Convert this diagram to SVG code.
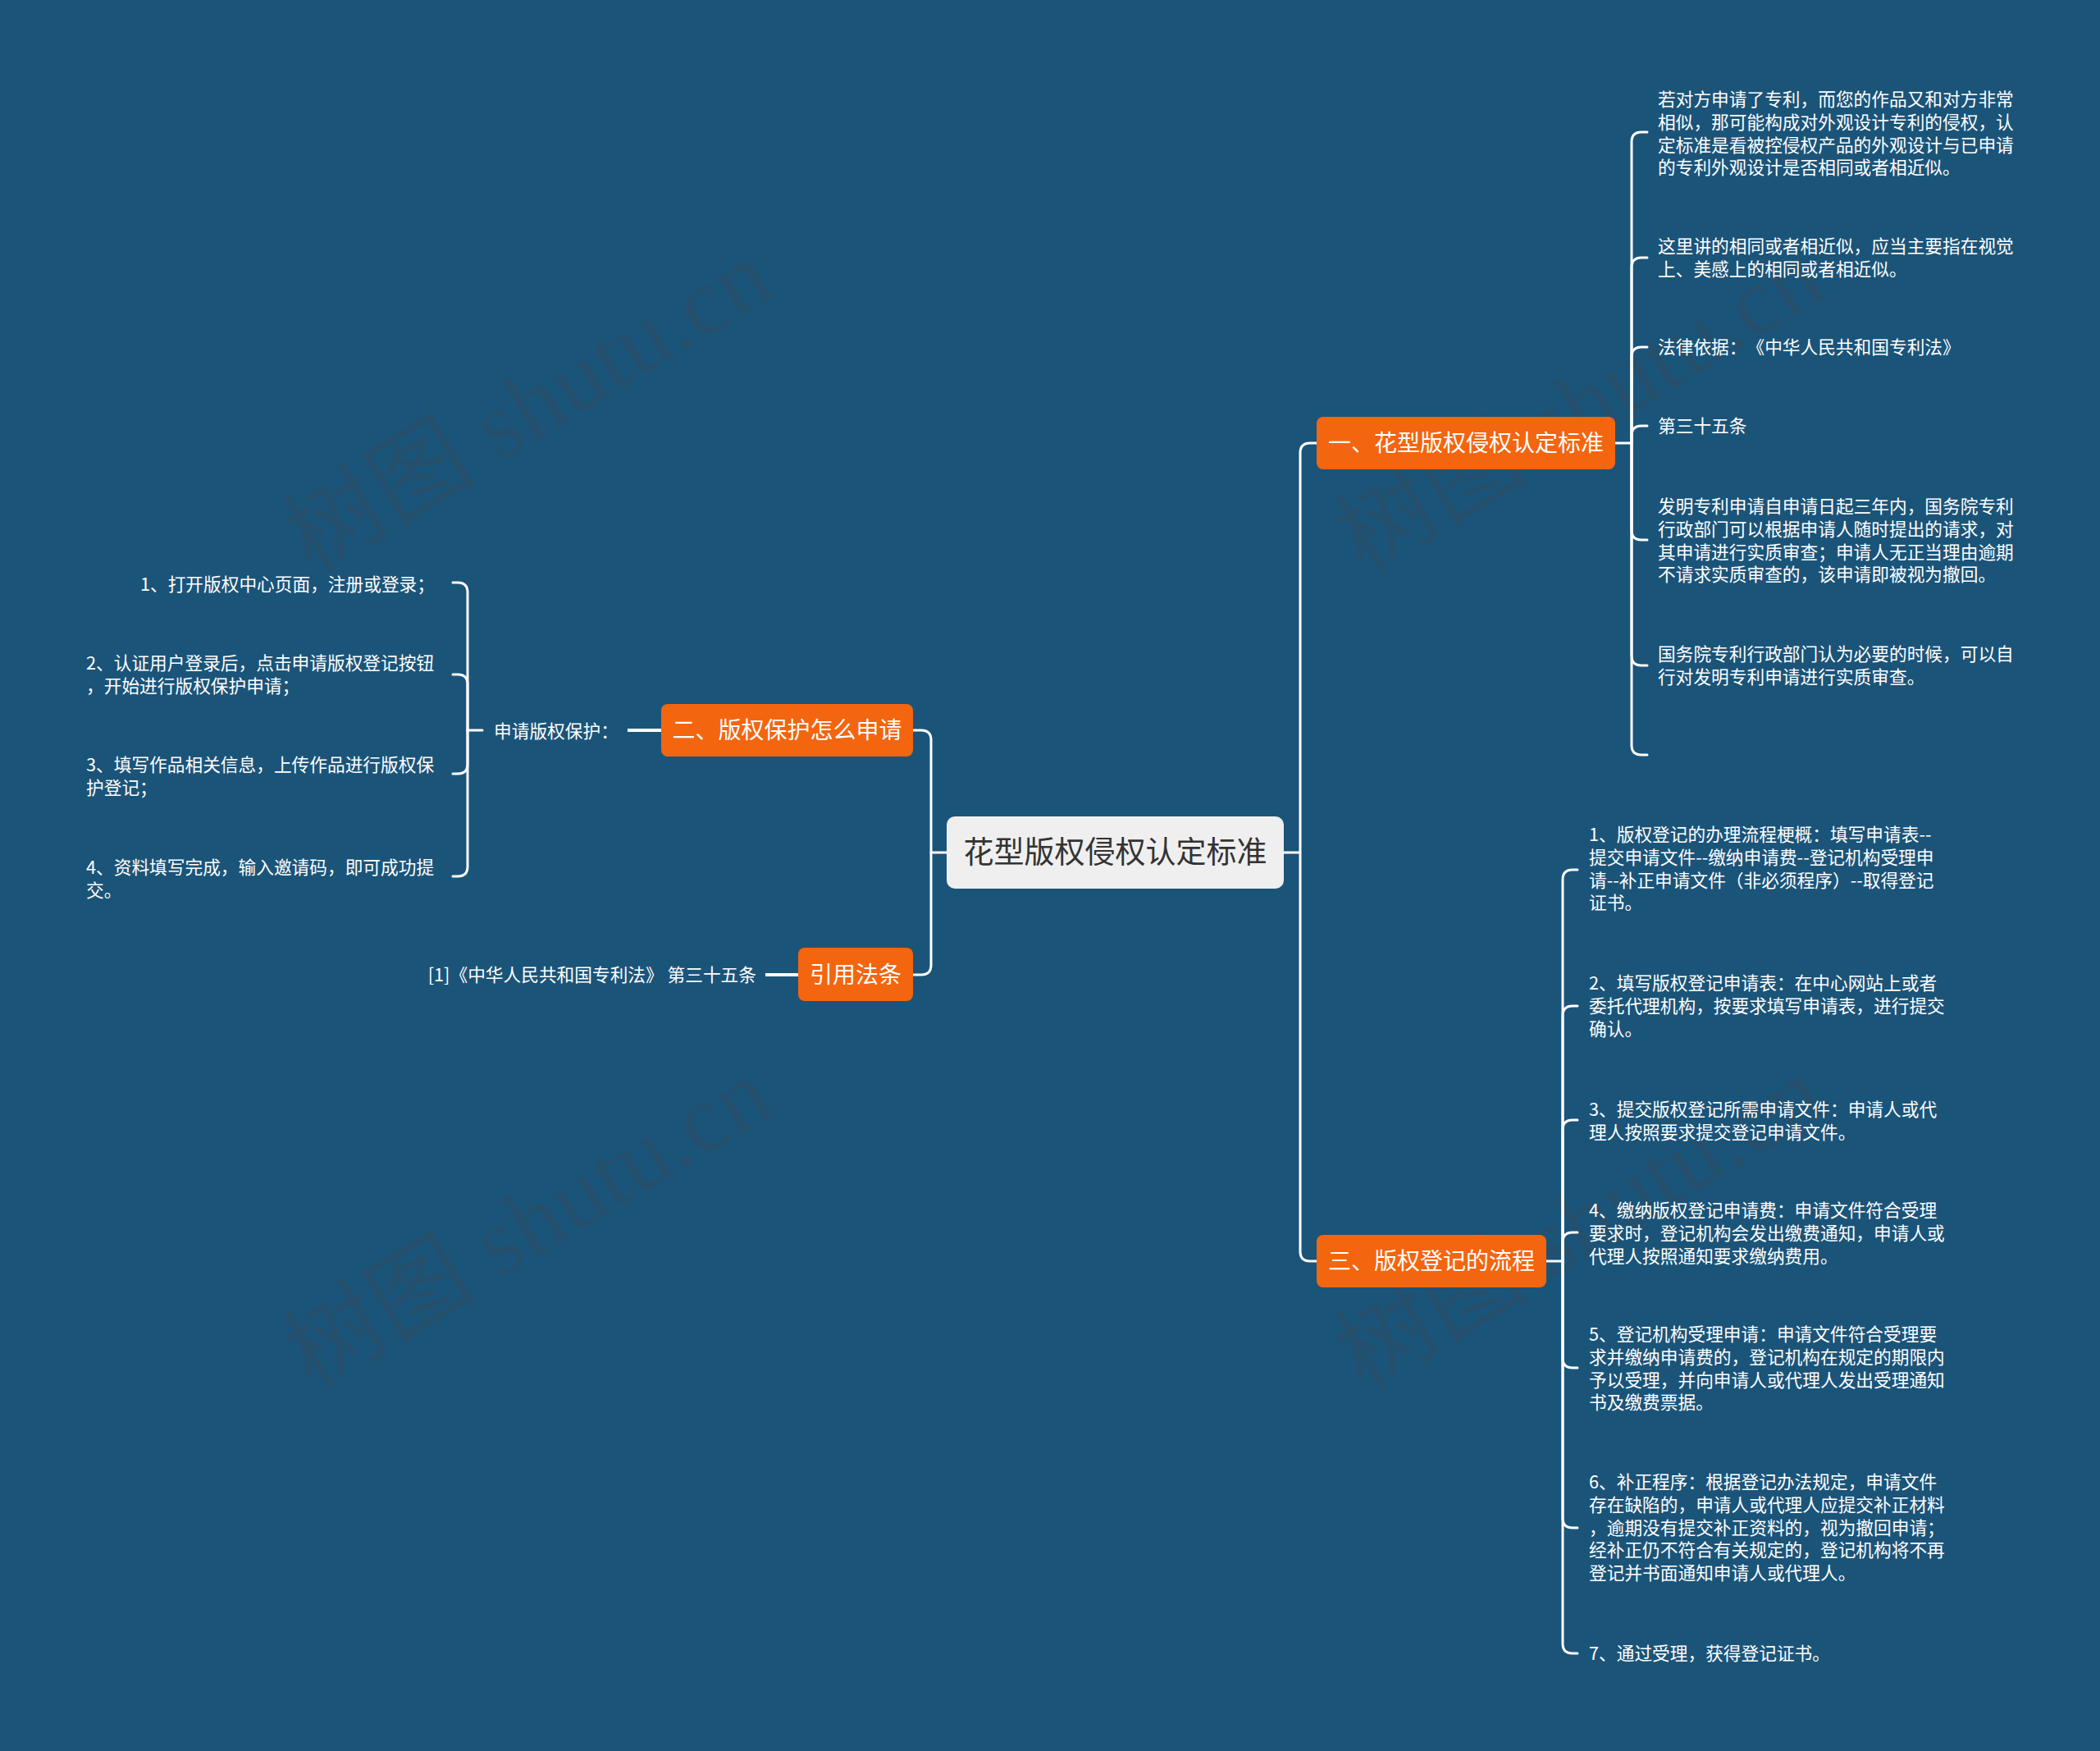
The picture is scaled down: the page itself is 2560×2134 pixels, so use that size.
<svg xmlns="http://www.w3.org/2000/svg" width="2560" height="2134" viewBox="0 0 2560 2134">
<style>
text{text-spacing-trim:space-all}
.bg{fill:#1b5479}
.wm{font-family:"Liberation Serif","Noto Sans CJK SC",serif;font-size:118px;fill:#3d4a55;fill-opacity:0.3}
.topic{fill:#f4650f}
.root{fill:#efefef}
.tt{font-family:"Noto Sans CJK SC",sans-serif;font-size:28px;fill:#ffffff;text-anchor:middle}
.rt{font-family:"Noto Sans CJK SC",sans-serif;font-size:37px;fill:#333333;text-anchor:middle}
.t{font-family:"Noto Sans CJK SC",sans-serif;font-size:21.7px;fill:#ffffff}
.c{fill:none;stroke:#ffffff;stroke-width:3;stroke-linecap:round;stroke-linejoin:round}
.c4{fill:none;stroke:#ffffff;stroke-width:4}
</style>
<rect class="bg" x="0" y="0" width="2560" height="2134"/>
<g id="watermarks">
<text class="wm" transform="translate(380,700) rotate(-31)">树图 shutu.cn</text>
<text class="wm" transform="translate(380,1696) rotate(-31)">树图 shutu.cn</text>
<text class="wm" transform="translate(1662,700) rotate(-31)">树图 shutu.cn</text>
<text class="wm" transform="translate(1662,1696) rotate(-31)">树图 shutu.cn</text>
</g>
<g id="connectors">
<path class="c" d="M1565 1039 H1585 V552 Q1585 540 1597 540 H1605"/>
<path class="c" d="M1585 1039 V1525 Q1585 1537 1597 1537 H1605"/>
<path class="c" d="M1154 1039 H1135 V902 Q1135 890 1123 890 H1113"/>
<path class="c" d="M1135 1039 V1176 Q1135 1188 1123 1188 H1113"/>
<path class="c" d="M1969 540 H1989 V173 Q1989 161 2001 161 H2008"/>
<path class="c" d="M1989 540 V326 Q1989 314 2001 314 H2008"/>
<path class="c" d="M1989 540 V435 Q1989 423 2001 423 H2008"/>
<path class="c" d="M1989 540 V531 Q1989 519 2001 519 H2008"/>
<path class="c" d="M1989 540 V646 Q1989 658 2001 658 H2008"/>
<path class="c" d="M1989 540 V799 Q1989 811 2001 811 H2008"/>
<path class="c" d="M1989 540 V908 Q1989 920 2001 920 H2008"/>
<path class="c" d="M1885 1537 H1905 V1072 Q1905 1060 1917 1060 H1923"/>
<path class="c" d="M1905 1537 V1238 Q1905 1226 1917 1226 H1923"/>
<path class="c" d="M1905 1537 V1377 Q1905 1365 1917 1365 H1923"/>
<path class="c" d="M1905 1537 V1514 Q1905 1502 1917 1502 H1923"/>
<path class="c" d="M1905 1537 V1655 Q1905 1667 1917 1667 H1923"/>
<path class="c" d="M1905 1537 V1850 Q1905 1862 1917 1862 H1923"/>
<path class="c" d="M1905 1537 V2003 Q1905 2015 1917 2015 H1923"/>
<path class="c4" d="M806 890 H765"/>
<path class="c" d="M588 890 H570 V722 Q570 710 558 710 H552"/>
<path class="c" d="M570 890 V834 Q570 822 558 822 H552"/>
<path class="c" d="M570 890 V931 Q570 943 558 943 H552"/>
<path class="c" d="M570 890 V1056 Q570 1068 558 1068 H552"/>
<path class="c4" d="M973 1188 H933"/>
</g>
<g id="root">
<rect class="root" x="1154" y="995" width="411" height="88" rx="10"/>
<text class="rt" x="1359.5" y="1052">花型版权侵权认定标准</text>
</g>
<g id="topic1">
<rect class="topic" x="1605" y="508" width="364" height="64" rx="8"/>
<text class="tt" x="1787" y="550">一、花型版权侵权认定标准</text>
</g>
<g id="topic2">
<rect class="topic" x="806" y="858" width="307" height="64" rx="8"/>
<text class="tt" x="959.5" y="900">二、版权保护怎么申请</text>
</g>
<g id="topic3">
<rect class="topic" x="1605" y="1505" width="280" height="64" rx="8"/>
<text class="tt" x="1745" y="1547">三、版权登记的流程</text>
</g>
<g id="topic4">
<rect class="topic" x="973" y="1155" width="140" height="65" rx="8"/>
<text class="tt" x="1043" y="1198">引用法条</text>
</g>
<g id="t1-1"><text class="t" x="2021" y="129">若对方申请了专利，而您的作品又和对方非常<tspan x="2021" dy="27.8">相似，那可能构成对外观设计专利的侵权，认</tspan><tspan x="2021" dy="27.8">定标准是看被控侵权产品的外观设计与已申请</tspan><tspan x="2021" dy="27.8">的专利外观设计是否相同或者相近似。</tspan></text></g>
<g id="t1-2"><text class="t" x="2021" y="308">这里讲的相同或者相近似，应当主要指在视觉<tspan x="2021" dy="27.8">上、美感上的相同或者相近似。</tspan></text></g>
<g id="t1-3"><text class="t" x="2021" y="431">法律依据：《中华人民共和国专利法》</text></g>
<g id="t1-4"><text class="t" x="2021" y="527">第三十五条</text></g>
<g id="t1-5"><text class="t" x="2021" y="625">发明专利申请自申请日起三年内，国务院专利<tspan x="2021" dy="27.8">行政部门可以根据申请人随时提出的请求，对</tspan><tspan x="2021" dy="27.8">其申请进行实质审查；申请人无正当理由逾期</tspan><tspan x="2021" dy="27.8">不请求实质审查的，该申请即被视为撤回。</tspan></text></g>
<g id="t1-6"><text class="t" x="2021" y="805">国务院专利行政部门认为必要的时候，可以自<tspan x="2021" dy="27.8">行对发明专利申请进行实质审查。</tspan></text></g>
<g id="t3-1"><text class="t" x="1937" y="1025">1、版权登记的办理流程梗概：填写申请表--<tspan x="1937" dy="27.8">提交申请文件--缴纳申请费--登记机构受理申</tspan><tspan x="1937" dy="27.8">请--补正申请文件（非必须程序）--取得登记</tspan><tspan x="1937" dy="27.8">证书。</tspan></text></g>
<g id="t3-2"><text class="t" x="1937" y="1206">2、填写版权登记申请表：在中心网站上或者<tspan x="1937" dy="27.8">委托代理机构，按要求填写申请表，进行提交</tspan><tspan x="1937" dy="27.8">确认。</tspan></text></g>
<g id="t3-3"><text class="t" x="1937" y="1360">3、提交版权登记所需申请文件：申请人或代<tspan x="1937" dy="27.8">理人按照要求提交登记申请文件。</tspan></text></g>
<g id="t3-4"><text class="t" x="1937" y="1483">4、缴纳版权登记申请费：申请文件符合受理<tspan x="1937" dy="27.8">要求时，登记机构会发出缴费通知，申请人或</tspan><tspan x="1937" dy="27.8">代理人按照通知要求缴纳费用。</tspan></text></g>
<g id="t3-5"><text class="t" x="1937" y="1634">5、登记机构受理申请：申请文件符合受理要<tspan x="1937" dy="27.8">求并缴纳申请费的，登记机构在规定的期限内</tspan><tspan x="1937" dy="27.8">予以受理，并向申请人或代理人发出受理通知</tspan><tspan x="1937" dy="27.8">书及缴费票据。</tspan></text></g>
<g id="t3-6"><text class="t" x="1937" y="1814">6、补正程序：根据登记办法规定，申请文件<tspan x="1937" dy="27.8">存在缺陷的，申请人或代理人应提交补正材料</tspan><tspan x="1937" dy="27.8">，逾期没有提交补正资料的，视为撤回申请；</tspan><tspan x="1937" dy="27.8">经补正仍不符合有关规定的，登记机构将不再</tspan><tspan x="1937" dy="27.8">登记并书面通知申请人或代理人。</tspan></text></g>
<g id="t3-7"><text class="t" x="1937" y="2023">7、通过受理，获得登记证书。</text></g>
<g id="t2-label"><text class="t" x="602" y="899">申请版权保护：</text></g>
<g id="t2-1"><text class="t" x="530" y="720" text-anchor="end">1、打开版权中心页面，注册或登录；</text></g>
<g id="t2-2"><text class="t" x="105" y="816">2、认证用户登录后，点击申请版权登记按钮<tspan x="105" dy="27.8">，开始进行版权保护申请；</tspan></text></g>
<g id="t2-3"><text class="t" x="105" y="940">3、填写作品相关信息，上传作品进行版权保<tspan x="105" dy="27.8">护登记；</tspan></text></g>
<g id="t2-4"><text class="t" x="105" y="1065">4、资料填写完成，输入邀请码，即可成功提<tspan x="105" dy="27.8">交。</tspan></text></g>
<g id="t4-1"><text class="t" x="922" y="1196" text-anchor="end" font-size="22.5">[1]《中华人民共和国专利法》 第三十五条</text></g>
</svg>
